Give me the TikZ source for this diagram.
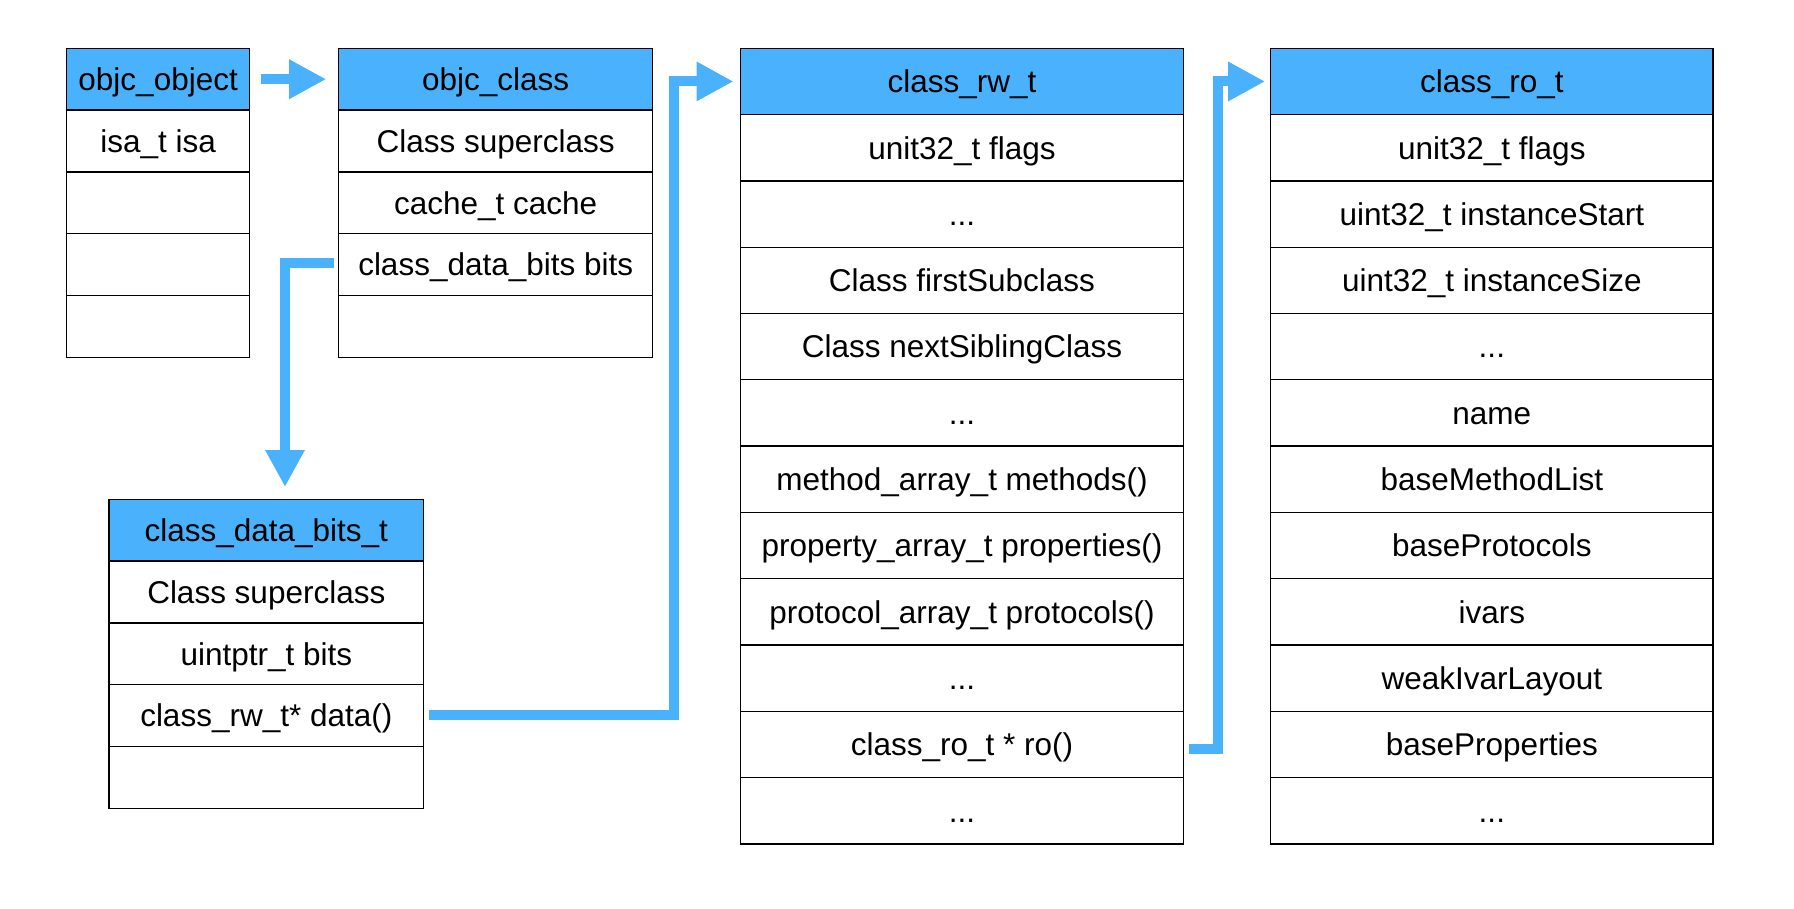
\documentclass[tikz,border=0pt]{standalone}
\usepackage{fontspec}
\setmainfont{Liberation Sans}
\usetikzlibrary{arrows.meta}
\definecolor{hdrblue}{HTML}{4AB1FC}
\newcommand{\tdots}{.{}.{}.}
\begin{document}
\begin{tikzpicture}[x=1pt,y=-1pt,
  cell/.style={draw=black, line width=1.3pt, rectangle, inner sep=0pt, outer sep=0pt, anchor=north west,
    font=\fontsize{31.5}{36}\selectfont, text height=23pt, text depth=0.5pt},
  hdr/.style={cell, fill=hdrblue},
  ow/.style={minimum width=183.1pt, minimum height=61.8pt},
  cw/.style={minimum width=314pt, minimum height=61.8pt},
  dw/.style={minimum width=314.6pt, minimum height=61.8pt},
  rww/.style={minimum width=443pt, minimum height=66.3pt},
  row/.style={minimum width=442.5pt, minimum height=66.3pt},
  conn/.style={draw=hdrblue, line width=10pt, -{Triangle[length=37pt,width=37pt]}}
]
\useasboundingbox (0,0) rectangle (1794,908);

% objc_object
\node[hdr,ow] (o0) at (66.6,48.3) {objc\_object};
\node[cell,ow] (o1) at (o0.south west) {isa\_t isa};
\node[cell,ow] (o2) at (o1.south west) {};
\node[cell,ow] (o3) at (o2.south west) {};
\node[cell,ow] (o4) at (o3.south west) {};

% objc_class
\node[hdr,cw] (c0) at (338.7,48.3) {objc\_class};
\node[cell,cw] (c1) at (c0.south west) {Class superclass};
\node[cell,cw] (c2) at (c1.south west) {cache\_t cache};
\node[cell,cw] (c3) at (c2.south west) {class\_data\_bits bits};
\node[cell,cw] (c4) at (c3.south west) {};

% class_data_bits_t
\node[hdr,dw] (d0) at (109,499.3) {class\_data\_bits\_t};
\node[cell,dw] (d1) at (d0.south west) {Class superclass};
\node[cell,dw] (d2) at (d1.south west) {uintptr\_t bits};
\node[cell,dw] (d3) at (d2.south west) {class\_rw\_t* data()};
\node[cell,dw] (d4) at (d3.south west) {};

% class_rw_t
\node[hdr,rww] (rw0) at (740.5,48.3) {class\_rw\_t};
\node[cell,rww] (rw1) at (rw0.south west) {unit32\_t flags};
\node[cell,rww] (rw2) at (rw1.south west) {\tdots};
\node[cell,rww] (rw3) at (rw2.south west) {Class firstSubclass};
\node[cell,rww] (rw4) at (rw3.south west) {Class nextSiblingClass};
\node[cell,rww] (rw5) at (rw4.south west) {\tdots};
\node[cell,rww] (rw6) at (rw5.south west) {method\_array\_t methods()};
\node[cell,rww] (rw7) at (rw6.south west) {property\_array\_t properties()};
\node[cell,rww] (rw8) at (rw7.south west) {protocol\_array\_t protocols()};
\node[cell,rww] (rw9) at (rw8.south west) {\tdots};
\node[cell,rww] (rw10) at (rw9.south west) {class\_ro\_t * ro()};
\node[cell,rww] (rw11) at (rw10.south west) {\tdots};

% class_ro_t
\node[hdr,row] (ro0) at (1270.6,48.3) {class\_ro\_t};
\node[cell,row] (ro1) at (ro0.south west) {unit32\_t flags};
\node[cell,row] (ro2) at (ro1.south west) {uint32\_t instanceStart};
\node[cell,row] (ro3) at (ro2.south west) {uint32\_t instanceSize};
\node[cell,row] (ro4) at (ro3.south west) {\tdots};
\node[cell,row] (ro5) at (ro4.south west) {name};
\node[cell,row] (ro6) at (ro5.south west) {baseMethodList};
\node[cell,row] (ro7) at (ro6.south west) {baseProtocols};
\node[cell,row] (ro8) at (ro7.south west) {ivars};
\node[cell,row] (ro9) at (ro8.south west) {weakIvarLayout};
\node[cell,row] (ro10) at (ro9.south west) {baseProperties};
\node[cell,row] (ro11) at (ro10.south west) {\tdots};

% connectors
\draw[conn, shorten <=11pt, shorten >=12.5pt] (o0.east) -- (c0.west);

\coordinate (k1) at (285,263);
\draw[conn, shorten <=4.7pt, shorten >=12.3pt] (c3.west |- k1) -| (k1 |- d0.north);

\coordinate (k2) at (674,715);
\draw[conn, shorten <=5pt, shorten >=7pt] (d3.east |- k2) -- (k2) |- (rw0.west);

\coordinate (k3) at (1218,749);
\draw[conn, shorten <=5pt, shorten >=5.5pt] (rw10.east |- k3) -- (k3) |- (ro0.west);
\end{tikzpicture}
\end{document}
